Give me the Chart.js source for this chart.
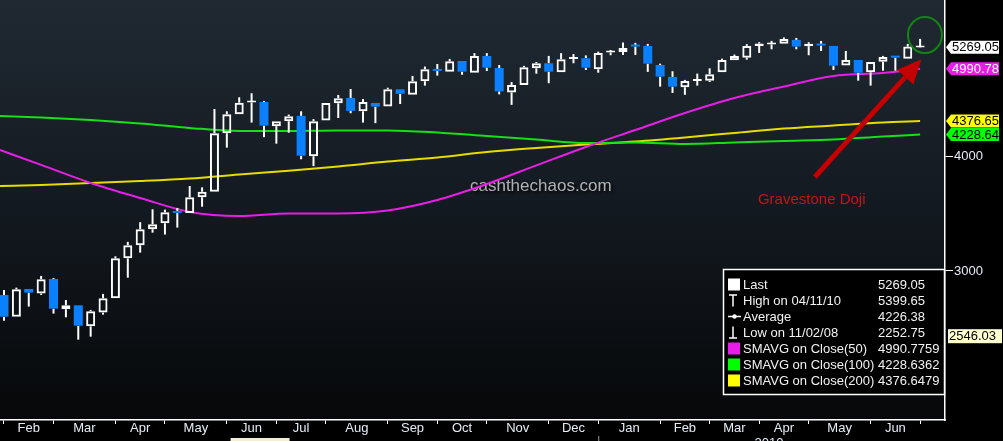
<!DOCTYPE html>
<html><head><meta charset="utf-8">
<script src="https://cdn.jsdelivr.net/npm/chart.js@4/dist/chart.umd.min.js"></script>
<style>html,body{margin:0;padding:0;background:#000;overflow:hidden}#wrap{width:1003px;height:441px;position:relative}canvas{display:block}</style>
</head><body><div id="wrap"><canvas id="c" width="1003" height="441"></canvas></div>
<script>
// ---- data (weekly candles, Feb 2009 - Jun 2010) ----
const monthLabels = ['Feb','Mar','Apr','May','Jun','Jul','Aug','Sep','Oct','Nov','Dec','Jan','Feb','Mar','Apr','May','Jun'];
const monthBounds = [0,4,9,13,18,22,26,31,35,39,44,48,53,57,61,65,70,74];
const yTicks = [3000, 4000];
const opens = [2824,2674,2867,2834,2940,2725,2752,2610,2702,2801,3097,3201,3332,3383,3481,3471,3612,3662,4243,4451,4585,4590,4318,4373,4432,4004,4380,4575,4637,4484,4579,4537,4739,4674,4836,4984,4954,5089,4941,5154,5000,4702,4790,4996,5060,4946,5115,5124,4984,5200,5206,5286,5286,5038,4889,4764,4840,4843,4946,5098,5132,5286,5306,5313,5366,5282,5309,5286,5030,5102,4946,5080,5141,5119,5265];
const highs = [2860,2877,2867,2963,2948,2789,2752,2720,2832,3113,3228,3392,3504,3501,3516,3715,3703,4510,4484,4645,4692,4602,4373,4447,4484,4396,4579,4672,4743,4625,4579,4758,4739,4901,5018,5051,5115,5089,5190,5190,5038,4826,5026,5076,5154,5190,5178,5161,5210,5232,5331,5326,5312,5055,4959,4852,4930,4996,5119,5172,5309,5336,5353,5399.65,5393,5335,5352,5286,5219,5102,5076,5154,5141,5312,5380];
const lows = [2647,2674,2743,2824,2695,2670,2524,2543,2688,2801,2950,3142,3304,3288,3346,3471,3527,3662,4092,4451,4358,4201,4133,4249,3974,3906,4380,4409,4462,4358,4352,4537,4567,4674,4783,4905,4954,4916,4941,4963,4679,4557,4790,4929,4812,4946,5060,4975,4941,5163,5167,5167,4951,4771,4695,4674,4783,4827,4946,5098,5106,5193,5241,5313,5241,5163,5219,4975,5030,4843,4783,4966,4966,5119,5262];
const closes = [2674,2865,2841,2938,2729,2752,2614,2711,2801,3097,3201,3332,3375,3478,3472,3612,3662,4243,4451,4582,4592,4325,4373,4429,4010,4373,4579,4633,4488,4590,4537,4739,4686,4836,4984,4963,5085,4954,5154,5004,4714,4790,5009,5060,4954,5111,5122,5004,5193,5210,5259,5277,5055,4893,4771,4840,4846,4922,5102,5154,5286,5317,5313,5380,5277,5313,5290,5030,5102,4941,5076,5141,5132,5277,5269.05];
const maIdx  = [-0.32,3,7,11,15,19,23,27,31,35,39,43,47,51,55,59,63,67,71,74];
const sma50  = [4068,3918,3744,3605,3481,3446,3468,3468,3494,3587,3734,3913,4099,4278,4465,4637,4773,4901,4938,4990.78];
const sma100 = [4432,4415,4387,4349,4300,4267,4267,4273,4273,4251,4214,4177,4140,4146,4130,4146,4162,4177,4209,4228.64];
const sma200 = [3716,3725,3744,3762,3786,3825,3860,3903,3952,3992,4048,4089,4125,4156,4198,4246,4294,4327,4360,4376.65];
const legendLabels = ['Last','High on 04/11/10','Average','Low on 11/02/08','SMAVG on Close(50)','SMAVG on Close(100)','SMAVG on Close(200)'];
const legendValues = ['5269.05','5399.65','4226.38','2252.75','4990.7759','4228.6362','4376.6479'];
const tagValues = [5269.05, 4990.78, 4376.65, 4228.64];
const tagTexts  = ['5269.05','4990.78','4376.65','4228.64'];
const markerValue = 2546.03;
const watermarkText = 'cashthechaos.com';
const noteText = 'Gravestone Doji';
const yearText = '2010';

// ---- derived tables for the library ----
const FONT = '"Liberation Sans", Arial, sans-serif';
const idx = opens.map((_, i) => i);
const isUp = idx.map(i => closes[i] >= opens[i]);
const bodyData  = idx.map(i => ({x: i, y: [opens[i], closes[i]]}));
const upperWick = idx.map(i => ({x: i, y: [Math.max(opens[i], closes[i]), highs[i]]}));
const lowerWick = idx.map(i => ({x: i, y: [lows[i], Math.min(opens[i], closes[i])]}));
const tickVals = [], tickText = [], tickBound = [];
monthBounds.forEach((b, k) => {
  tickVals.push(b); tickText.push(''); tickBound.push(true);
  if (k < monthLabels.length) { tickVals.push((b + monthBounds[k + 1]) / 2); tickText.push(monthLabels[k]); tickBound.push(false); }
});
const BLUE = '#0a80ff';
const MAG = '#e81ee8', GRN = '#16e016', YEL = '#e6dc00';

const bgPlugin = {
  id: 'bg',
  beforeDraw(chart) {
    const {ctx, chartArea: a} = chart;
    ctx.save();
    ctx.fillStyle = '#000'; ctx.fillRect(0, 0, chart.width, chart.height);
    const g = ctx.createLinearGradient(0, a.top, 0, a.bottom);
    g.addColorStop(0, '#202932'); g.addColorStop(0.5, '#131920'); g.addColorStop(1, '#060809');
    ctx.fillStyle = g; ctx.fillRect(a.left, a.top, a.right - a.left, a.bottom - a.top);
    ctx.restore();
  }
};

const overlay = {
  id: 'overlay',
  beforeDatasetsDraw(chart) {
    const {ctx, scales: {x, y}} = chart;
    ctx.save();
    ctx.font = '17px ' + FONT;
    ctx.textBaseline = 'middle'; ctx.textAlign = 'left';
    ctx.shadowColor = 'rgba(0,0,0,0.9)'; ctx.shadowBlur = 3; ctx.shadowOffsetX = 2; ctx.shadowOffsetY = 2;
    ctx.fillStyle = 'rgba(205,205,205,0.85)';
    ctx.fillText(watermarkText, x.getPixelForValue(37.64), y.getPixelForValue(3716));
    ctx.restore();
  },
  afterDraw(chart) {
    const {ctx, chartArea: a, scales: {x, y}} = chart;
    ctx.save();
    // note text
    ctx.font = '15px ' + FONT; ctx.textBaseline = 'middle'; ctx.textAlign = 'left';
    ctx.fillStyle = '#c81414';
    ctx.fillText(noteText, x.getPixelForValue(60.9), y.getPixelForValue(3587));
    // red arrow
    const tx = x.getPixelForValue(65.5), ty = y.getPixelForValue(3801);
    const hx = x.getPixelForValue(74.1), hy = y.getPixelForValue(5111);
    const dx = hx - tx, dy = hy - ty, L = Math.hypot(dx, dy), ux = dx / L, uy = dy / L;
    const bx = hx - 24 * ux, by = hy - 24 * uy, px = -uy, py = ux;
    ctx.strokeStyle = '#c40000'; ctx.lineWidth = 5; ctx.lineCap = 'butt';
    ctx.beginPath(); ctx.moveTo(tx, ty); ctx.lineTo(bx, by); ctx.stroke();
    ctx.fillStyle = '#c40000';
    ctx.beginPath(); ctx.moveTo(hx, hy); ctx.lineTo(bx + 11 * px, by + 11 * py); ctx.lineTo(bx - 11 * px, by - 11 * py); ctx.closePath(); ctx.fill();
    // green circle
    ctx.strokeStyle = '#148414'; ctx.lineWidth = 2;
    ctx.beginPath(); ctx.ellipse(x.getPixelForValue(74.39), y.getPixelForValue(5433), 17, 18, 0, 0, Math.PI * 2); ctx.stroke();
    // right value tags
    const tagBg = ['#ffffff', MAG, '#ffff00', '#00ff00'];
    const tagFg = ['#000', '#fff', '#000', '#000'];
    ctx.font = '13px ' + FONT;
    tagValues.forEach((v, k) => {
      const p = y.getPixelForValue(v), L0 = a.right + 1;
      ctx.fillStyle = tagBg[k];
      ctx.beginPath(); ctx.moveTo(L0, p); ctx.lineTo(L0 + 5, p - 6.5); ctx.lineTo(999, p - 6.5); ctx.lineTo(999, p + 6.5); ctx.lineTo(L0 + 5, p + 6.5); ctx.closePath(); ctx.fill();
      ctx.fillStyle = tagFg[k]; ctx.textAlign = 'left'; ctx.textBaseline = 'middle';
      ctx.fillText(tagTexts[k], L0 + 6, p + 0.5);
    });
    const mp = y.getPixelForValue(markerValue);
    ctx.fillStyle = '#ffffd2'; ctx.fillRect(a.right + 3, mp - 7, 54, 14);
    ctx.fillStyle = '#000'; ctx.fillText(markerValue.toFixed(2), a.right + 4, mp + 0.5);
    // legend box
    const bl = a.right - 222, bt = a.bottom - 151, bw = 222, bh = 125;
    ctx.fillStyle = '#000'; ctx.fillRect(bl, bt, bw, bh);
    ctx.strokeStyle = '#fff'; ctx.lineWidth = 1.5; ctx.strokeRect(bl + 0.5, bt + 0.5, bw - 1, bh);
    const sw = ['#ffffff', null, null, null, MAG, '#00ff00', '#ffff00'];
    legendLabels.forEach((t, k) => {
      const ry = bt + 15.5 + 16 * k, ix = bl + 5;
      ctx.strokeStyle = '#fff'; ctx.fillStyle = '#fff'; ctx.lineWidth = 1.5;
      if (sw[k]) { ctx.fillStyle = sw[k]; ctx.fillRect(ix, ry - 6, 12, 12); }
      else if (k === 1) { ctx.beginPath(); ctx.moveTo(ix + 1, ry - 5.5); ctx.lineTo(ix + 9, ry - 5.5); ctx.moveTo(ix + 5, ry - 5.5); ctx.lineTo(ix + 5, ry + 6); ctx.stroke(); }
      else if (k === 2) { ctx.beginPath(); ctx.moveTo(ix, ry); ctx.lineTo(ix + 13, ry); ctx.stroke(); ctx.beginPath(); ctx.arc(ix + 6.5, ry, 2.2, 0, Math.PI * 2); ctx.fill(); }
      else if (k === 3) { ctx.beginPath(); ctx.moveTo(ix + 5, ry - 6); ctx.lineTo(ix + 5, ry + 5.5); ctx.moveTo(ix + 1, ry + 5.5); ctx.lineTo(ix + 9, ry + 5.5); ctx.stroke(); }
      ctx.fillStyle = '#f2f2f2'; ctx.textAlign = 'left'; ctx.textBaseline = 'middle';
      ctx.fillText(t, bl + 20, ry + 0.5);
      ctx.fillText(legendValues[k], bl + 155, ry + 0.5);
    });
    // year row (cropped at bottom)
    ctx.fillStyle = '#f3efd6'; ctx.fillRect(x.getPixelForValue(18.3), a.bottom + 18, 59, 4);
    ctx.strokeStyle = '#9a9a9a'; ctx.lineWidth = 1;
    ctx.beginPath(); ctx.moveTo(x.getPixelForValue(48) + 0.5, a.bottom + 16); ctx.lineTo(x.getPixelForValue(48) + 0.5, a.bottom + 21); ctx.stroke();
    ctx.fillStyle = '#e4ecf7'; ctx.textAlign = 'center'; ctx.textBaseline = 'top';
    ctx.fillText(yearText, x.getPixelForValue(61.8), a.bottom + 17);
    ctx.restore();
  }
};

Chart.defaults.font.family = FONT;
new Chart(document.getElementById('c'), {
  type: 'bar',
  data: {
    datasets: [
      {type: 'bar', data: bodyData, barThickness: 9, grouped: false, minBarLength: 2, borderSkipped: false, inflateAmount: 0,
       backgroundColor: idx.map(i => isUp[i] ? 'rgba(0,0,0,0)' : BLUE),
       borderColor: idx.map(i => isUp[i] ? '#ffffff' : BLUE),
       borderWidth: idx.map(i => isUp[i] ? 2 : 0)},
      {type: 'bar', data: upperWick, barThickness: 2, grouped: false, borderWidth: 0, inflateAmount: 0, backgroundColor: '#ffffff'},
      {type: 'bar', data: lowerWick, barThickness: 2, grouped: false, borderWidth: 0, inflateAmount: 0, backgroundColor: '#ffffff'},
      {type: 'line', data: maIdx.map((v, i) => ({x: v, y: sma50[i]})), borderColor: MAG, borderWidth: 2, pointRadius: 0, cubicInterpolationMode: 'monotone'},
      {type: 'line', data: maIdx.map((v, i) => ({x: v, y: sma100[i]})), borderColor: GRN, borderWidth: 2, pointRadius: 0, cubicInterpolationMode: 'monotone'},
      {type: 'line', data: maIdx.map((v, i) => ({x: v, y: sma200[i]})), borderColor: YEL, borderWidth: 2, pointRadius: 0, cubicInterpolationMode: 'monotone'}
    ]
  },
  options: {
    responsive: false, animation: false, events: [],
    layout: {padding: 0},
    plugins: {legend: {display: false}, tooltip: {enabled: false}},
    scales: {
      x: {
        type: 'linear', position: 'bottom', min: -0.323, max: 76.01, offset: false,
        afterBuildTicks(s) { s.ticks = tickVals.map(v => ({value: v})); },
        afterFit(s) { s.height = 21; s.paddingLeft = 0; s.paddingRight = 0; },
        grid: {drawOnChartArea: false, drawTicks: true, tickLength: 4, tickWidth: 1, offset: false,
               tickColor: c => tickBound[c.index] ? '#ffffff' : 'rgba(0,0,0,0)'},
        border: {display: true, color: '#ffffff', width: 1.5},
        ticks: {autoSkip: false, maxRotation: 0, minRotation: 0, padding: -3, color: '#e4ecf7',
                font: {size: 13}, callback: (v, i) => tickText[i]}
      },
      y: {
        type: 'logarithmic', position: 'right', min: 2062, max: 5933,
        afterBuildTicks(s) { s.ticks = yTicks.map(v => ({value: v})); },
        afterFit(s) { s.width = 58; s.paddingTop = 0; s.paddingBottom = 0; },
        grid: {drawOnChartArea: false, tickLength: 8, tickColor: '#ffffff'},
        border: {display: true, color: '#ffffff', width: 1.5},
        ticks: {padding: 1, color: '#e4ecf7', font: {size: 13}, callback: v => String(v)}
      }
    }
  },
  plugins: [bgPlugin, overlay]
});
</script></body></html>
